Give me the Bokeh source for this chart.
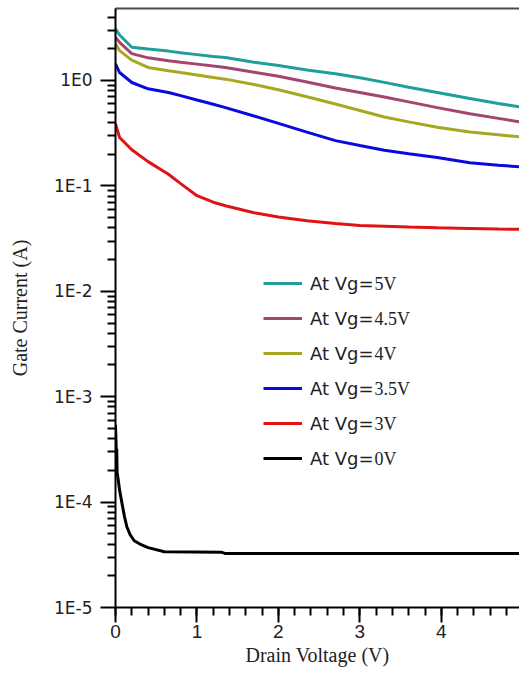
from bokeh.plotting import figure
from bokeh.models import FixedTicker, Legend, LegendItem, Label, LinearAxis, Range1d
from bokeh.embed import file_html
from bokeh.resources import INLINE

# ---- data ----
x_hi = [0, 0.05, 0.2, 0.4, 0.65, 0.8, 1.0, 1.2, 1.35, 1.7, 2.0, 2.35, 2.7, 3.0, 3.3, 3.6, 3.95, 4.35, 4.7, 5.0]
ig_5v = [3.1, 2.7, 2.07, 1.99, 1.9, 1.83, 1.76, 1.69, 1.65, 1.49, 1.39, 1.26, 1.16, 1.06, 0.96, 0.863, 0.77, 0.675, 0.605, 0.555]
ig_4p5v = [2.57, 2.3, 1.8, 1.64, 1.54, 1.49, 1.43, 1.37, 1.33, 1.2, 1.096, 0.966, 0.85, 0.77, 0.696, 0.627, 0.553, 0.484, 0.437, 0.40]
ig_4v = [2.23, 1.92, 1.56, 1.33, 1.24, 1.19, 1.13, 1.07, 1.03, 0.916, 0.816, 0.70, 0.599, 0.52, 0.451, 0.405, 0.36, 0.324, 0.305, 0.29]
ig_3p5v = [1.44, 1.19, 0.957, 0.834, 0.77, 0.718, 0.653, 0.595, 0.553, 0.46, 0.392, 0.324, 0.269, 0.242, 0.218, 0.202, 0.186, 0.166, 0.157, 0.151]
ig_3v = [0.389, 0.288, 0.22, 0.17, 0.129, 0.105, 0.0807, 0.07, 0.0648, 0.0557, 0.0507, 0.0468, 0.044, 0.0421, 0.0414, 0.0407, 0.0401, 0.0395, 0.0389, 0.0387]
x_0v = [0, 0.01, 0.015, 0.02, 0.03, 0.05, 0.08, 0.11, 0.14, 0.18, 0.23, 0.3, 0.4, 0.6, 1.3, 1.35, 5.0]
ig_0v = [5.4e-4, 3.0e-4, 3.2e-4, 1.9e-4, 1.7e-4, 1.3e-4, 9.7e-5, 7.3e-5, 5.8e-5, 4.9e-5, 4.3e-5,
         4.0e-5, 3.7e-5, 3.38e-5, 3.35e-5, 3.25e-5, 3.25e-5]

series_prefix = "At Vg="
series_values = ["5V", "4.5V", "4V", "3.5V", "3V", "0V"]
series_colors = ["#1f9e9b", "#a4456f", "#a8a820", "#0a0ae0", "#e01414", "#000000"]

x_major = [0, 1, 2, 3, 4, 5]
x_tick_labels = ["0", "1", "2", "3", "4", "5"]
y_major = [1e-5, 1e-4, 1e-3, 1e-2, 1e-1, 1e0]
y_tick_labels = ["1E-5", "1E-4", "1E-3", "1E-2", "1E-1", "1E0"]

# ---- figure ----
p = figure(width=519, height=673, output_backend="svg", toolbar_location=None,
           y_axis_type="log",
           x_range=Range1d(0, 4.96), y_range=Range1d(1e-5, 4.82),
           min_border_left=115, min_border_right=0, min_border_top=8, min_border_bottom=66)
p.outline_line_color = None
p.grid.visible = False
p.background_fill_color = "white"
p.border_fill_color = "white"

xs = [x_hi, x_hi, x_hi, x_hi, x_hi, x_0v]
ys = [ig_5v, ig_4p5v, ig_4v, ig_3p5v, ig_3v, ig_0v]
renderers = []
for xx, yy, c in zip(xs, ys, series_colors):
    r = p.line(xx, yy, line_color=c, line_width=3)
    renderers.append(r)

# x axis
x_minor = [i * 0.2 for i in range(0, 26)]
xa = p.xaxis[0]
xa.ticker = FixedTicker(ticks=x_major, minor_ticks=x_minor)
xa.major_label_overrides = {float(t): l for t, l in zip(x_major, x_tick_labels)}
xa.axis_label = "Drain Voltage (V)"
xa.axis_label_text_font = "Liberation Serif"
xa.axis_label_text_font_size = "20px"
xa.axis_label_text_font_style = "normal"
xa.axis_label_text_color = "#222222"
xa.axis_label_standoff = 3
xa.major_label_text_font = "Liberation Sans"
xa.major_label_text_font_size = "19px"
xa.major_label_text_color = "#222222"
xa.major_label_standoff = 2
xa.major_tick_out = 15
xa.major_tick_in = 0
xa.minor_tick_out = 8
xa.minor_tick_in = 0
xa.axis_line_width = 2
xa.major_tick_line_width = 2
xa.minor_tick_line_width = 2

# y axis
y_minor = [m * d for d in [1e-5, 1e-4, 1e-3, 1e-2, 1e-1, 1e0] for m in range(2, 10)]
ya = p.yaxis[0]
ya.ticker = FixedTicker(ticks=y_major, minor_ticks=y_minor)
ya.major_label_overrides = {t: l for t, l in zip(y_major, y_tick_labels)}
ya.axis_label = "Gate Current (A)"
ya.axis_label_text_font = "Liberation Serif"
ya.axis_label_text_font_size = "20px"
ya.axis_label_text_font_style = "normal"
ya.axis_label_text_color = "#222222"
ya.axis_label_standoff = 20
ya.major_label_text_font = "DejaVu Sans"
ya.major_label_text_font_size = "17px"
ya.major_label_text_color = "#222222"
ya.major_label_standoff = 8
ya.major_tick_out = 15
ya.major_tick_in = 0
ya.minor_tick_out = 8
ya.minor_tick_in = 0
ya.axis_line_width = 2
ya.major_tick_line_width = 2
ya.minor_tick_line_width = 2

# top frame line
top = LinearAxis(ticker=FixedTicker(ticks=[]), major_tick_out=0, major_tick_in=0,
                 minor_tick_out=0, minor_tick_in=0, major_label_text_font_size="0px",
                 axis_line_color="#4a4a4a", axis_line_width=2, major_label_standoff=0)
p.add_layout(top, "above")

# legend
items = [LegendItem(label=series_prefix, renderers=[r]) for r in renderers]
leg = Legend(items=items, location=(148, 138), padding=0, margin=0, spacing=13,
             glyph_width=39, glyph_height=22, label_height=22, label_standoff=8,
             label_text_font="DejaVu Sans", label_text_font_size="18px",
             label_text_color="#222222", border_line_color=None, background_fill_alpha=0)
p.add_layout(leg, "center")

for i, v in enumerate(series_values):
    lab = Label(x=148 + 39 + 8 + 64, y=607 - 8 - (283 - 8) - i * 35, x_units="screen", y_units="screen",
                text=v, text_font="Liberation Serif", text_font_size="18px",
                text_color="#222222", text_baseline="middle", text_align="left")
    p.add_layout(lab)

open("out.html", "w").write(file_html(p, INLINE))
